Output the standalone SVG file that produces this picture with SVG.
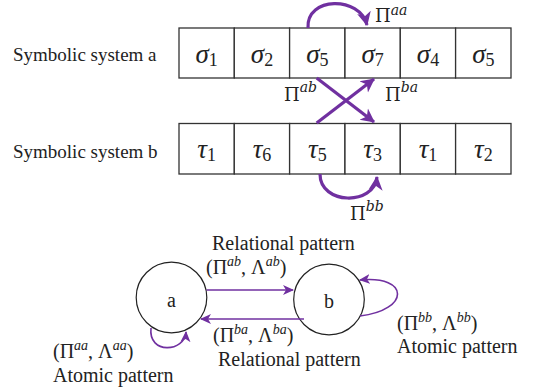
<svg xmlns="http://www.w3.org/2000/svg" width="537" height="389" viewBox="0 0 537 389">
<style>
.lbl{font-family:"Liberation Serif","Times New Roman",serif;font-size:19px;fill:#222}
.glbl{font-family:"Liberation Serif","Times New Roman",serif;font-size:20px;fill:#222}
.cell{fill:#fff;stroke:#333;stroke-width:1.3}
.greek{font-family:"Liberation Serif","Times New Roman",serif;font-style:italic;font-size:27px;fill:#222}
.sub{font-style:normal;font-size:18px}
.pi{font-family:"DejaVu Serif",serif;font-size:18px;fill:#222}
.sup{font-style:italic;font-size:14px}
.gsup{font-style:italic;font-size:14px}
.thick{fill:none;stroke:#7030A0;stroke-width:3.2}
.thin{fill:none;stroke:#7030A0;stroke-width:1.6}
.node{fill:#fff;stroke:#222;stroke-width:1.2}
</style>
<defs>
<marker id="big" markerUnits="userSpaceOnUse" markerWidth="16" markerHeight="16" refX="13" refY="8" orient="auto">
<path d="M0,1 L14,8 L0,15 L4,8 Z" fill="#7030A0"/>
</marker>
<marker id="small" markerUnits="userSpaceOnUse" markerWidth="12" markerHeight="12" refX="10" refY="6" orient="auto">
<path d="M0,1 L11,6 L0,11 L3,6 Z" fill="#7030A0"/>
</marker>
</defs>
<rect width="537" height="389" fill="#fff"/>
<text class="lbl" x="13" y="61">Symbolic system a</text>
<text class="lbl" x="13" y="158">Symbolic system b</text>
<g id="system-a">
<rect class="cell" x="179" y="28" width="55.3" height="50"/>
<rect class="cell" x="234.3" y="28" width="55.3" height="50"/>
<rect class="cell" x="289.6" y="28" width="55.3" height="50"/>
<rect class="cell" x="345" y="28" width="55.3" height="50"/>
<rect class="cell" x="400.3" y="28" width="55.3" height="50"/>
<rect class="cell" x="455.6" y="28" width="55.4" height="50"/>
<g class="greek" text-anchor="middle">
<text x="206.7" y="63">σ<tspan class="sub" dy="3">1</tspan></text>
<text x="262" y="63">σ<tspan class="sub" dy="3">2</tspan></text>
<text x="317.3" y="63">σ<tspan class="sub" dy="3">5</tspan></text>
<text x="372.6" y="63">σ<tspan class="sub" dy="3">7</tspan></text>
<text x="428" y="63">σ<tspan class="sub" dy="3">4</tspan></text>
<text x="483.3" y="63">σ<tspan class="sub" dy="3">5</tspan></text>
</g>
</g>
<g id="system-b">
<rect class="cell" x="179" y="123.5" width="55.3" height="50.5"/>
<rect class="cell" x="234.3" y="123.5" width="55.3" height="50.5"/>
<rect class="cell" x="289.6" y="123.5" width="55.3" height="50.5"/>
<rect class="cell" x="345" y="123.5" width="55.3" height="50.5"/>
<rect class="cell" x="400.3" y="123.5" width="55.3" height="50.5"/>
<rect class="cell" x="455.6" y="123.5" width="55.4" height="50.5"/>
<g class="greek" text-anchor="middle">
<text x="206.7" y="158">τ<tspan class="sub" dy="3">1</tspan></text>
<text x="262" y="158">τ<tspan class="sub" dy="3">6</tspan></text>
<text x="317.3" y="158">τ<tspan class="sub" dy="3">5</tspan></text>
<text x="372.6" y="158">τ<tspan class="sub" dy="3">3</tspan></text>
<text x="428" y="158">τ<tspan class="sub" dy="3">1</tspan></text>
<text x="483.3" y="158">τ<tspan class="sub" dy="3">2</tspan></text>
</g>
</g>
<g id="node-a">
<circle class="node" cx="171.5" cy="297.5" r="35.3"/>
<text class="glbl" x="171.5" y="307" text-anchor="middle" font-size="24">a</text>
</g>
<g id="node-b">
<circle class="node" cx="329" cy="299.5" r="35.3"/>
<text class="glbl" x="329" y="308" text-anchor="middle" font-size="24">b</text>
</g>
<g id="connectors">
<path class="thick" d="M308,28 C306,-4 360,-4 367,25" marker-end="url(#big)"/>
<path class="thick" d="M316.7,78 L374,122" marker-end="url(#big)"/>
<path class="thick" d="M316.7,123 L374,79" marker-end="url(#big)"/>
<path class="thick" d="M320,174 C320,205 374,206 377,177" marker-end="url(#big)"/>
<path class="thin" d="M206.5,290 L293,290" marker-end="url(#small)"/>
<path class="thin" d="M304,319 L201,319" marker-end="url(#small)"/>
<path class="thin" d="M151,328 C148,355 185,352 186,332" marker-end="url(#small)"/>
<path class="thin" d="M360,316 C410,310 410,275 360,280" marker-end="url(#small)"/>
</g>
<g class="pi">
<text x="375" y="22">Π<tspan class="sup" dy="-7">aa</tspan></text>
<text x="284" y="101">Π<tspan class="sup" dy="-9">ab</tspan></text>
<text x="385" y="101">Π<tspan class="sup" dy="-9">ba</tspan></text>
<text x="350" y="220">Π<tspan class="sup" dy="-9">bb</tspan></text>
</g>
<g class="glbl">
<text x="212" y="250">Relational pattern</text>
<text x="206" y="274">(Π<tspan class="gsup" dy="-8">ab</tspan><tspan dy="8">, Λ</tspan><tspan class="gsup" dy="-8">ab</tspan><tspan dy="8">)</tspan></text>
<text x="213" y="342">(Π<tspan class="gsup" dy="-8">ba</tspan><tspan dy="8">, Λ</tspan><tspan class="gsup" dy="-8">ba</tspan><tspan dy="8">)</tspan></text>
<text x="218" y="366">Relational pattern</text>
<text x="53" y="358">(Π<tspan class="gsup" dy="-8">aa</tspan><tspan dy="8">, Λ</tspan><tspan class="gsup" dy="-8">aa</tspan><tspan dy="8">)</tspan></text>
<text x="53" y="382">Atomic pattern</text>
<text x="397" y="330">(Π<tspan class="gsup" dy="-8">bb</tspan><tspan dy="8">, Λ</tspan><tspan class="gsup" dy="-8">bb</tspan><tspan dy="8">)</tspan></text>
<text x="397" y="353">Atomic pattern</text>
</g>
</svg>
